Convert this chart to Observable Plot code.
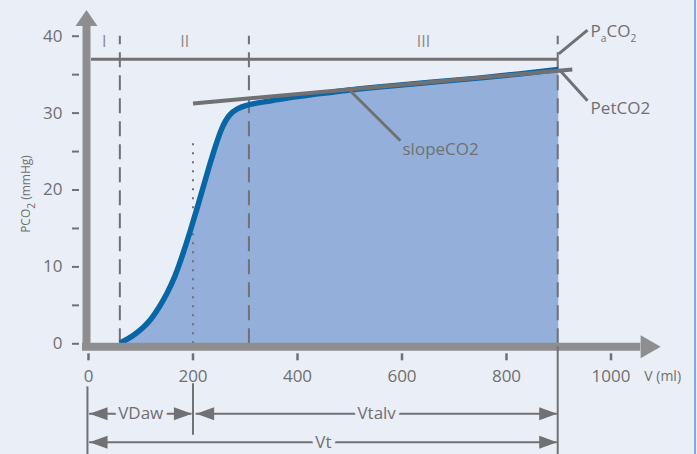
<!DOCTYPE html>
<html>
<head>
<meta charset="utf-8">
<script src="https://cdn.jsdelivr.net/npm/d3@7"></script>
<script src="https://cdn.jsdelivr.net/npm/@observablehq/plot@0.6"></script>
<style>
  html, body { margin: 0; padding: 0; background: #e9eef7; }
  #chart { position: relative; width: 697px; height: 454px; overflow: hidden; }
  #edge { position: absolute; left: 694px; top: 0; width: 2px; height: 454px; background: #82a8d9; }
</style>
</head>
<body>
<div id="chart"><div id="edge"></div></div>
<script>
// ---- data ----
const volume = [60, 75, 90, 105, 120, 135, 150, 165, 180, 195, 210, 225, 240, 255, 270, 285, 300, 320, 350, 380, 430, 495, 570, 655, 740, 827, 898, 900];
const pco2   = [0.1, 0.6, 1.3, 2.1, 3.2, 4.7, 6.5, 8.6, 11.5, 14.7, 18.1, 21.7, 25.1, 28.2, 29.9, 30.6, 31.0, 31.3, 31.6, 32.0, 32.4, 33.0, 33.5, 34.0, 34.5, 35.1, 35.65, 35.66];
const xTicks = [0, 200, 400, 600, 800, 1000];
const yTicks = [0, 5, 10, 15, 20, 25, 30, 35, 40];
const phaseBounds = [60, 307, 898];
const phaseNames = ["I", "II", "III"];
const phaseNameX = [30, 184, 641];
const paco2Value = 37;
const slopeX = [200, 926];
const slopeY = [31.25, 35.67];
const dotVolume = 200;
const dotTop = 26;
const dimLabels = ["VDaw", "Vtalv", "Vt"];
const dimStart = [2, 206, 2];
const dimEnd = [198, 897, 897];
const dimRow = [-9.1, -9.1, -12.8];
const annotLabels = ["P_aCO_2", "PetCO2", "slopeCO2"];
const annotFrom = [[900, 37.7], [903, 35.5], [495, 33.3]];
const annotTo = [[955, 40.8], [955, 31.6], [597, 26.4]];
const annotText = [[961, 40.6], [961, 30.6], [601, 25.3]];

const data = volume.map((v, i) => ({v, p: pco2[i]}));

// ---- style ----
const bg = "#e9eef7";
const axisGray = "#8e8e90";
const lineGray = "#717173";
const textGray = "#707070";

function arrowSymbol(L, H) {
  return { draw(ctx) { ctx.moveTo(0, 0); ctx.lineTo(-L, -H / 2); ctx.lineTo(-L, H / 2); ctx.closePath(); } };
}
const headBig = arrowSymbol(20, 23);
const headY = arrowSymbol(16, 22);
const headSmall = arrowSymbol(18, 13);

const dims = dimLabels.map((label, i) => ({label, x1: dimStart[i], x2: dimEnd[i], y: dimRow[i]}));
const heads = dims.flatMap(d => [{x: d.x1, y: d.y, r: 180}, {x: d.x2, y: d.y, r: 0}]);
const annots = annotLabels.map((t, i) => ({t, x1: annotFrom[i][0], y1: annotFrom[i][1], x2: annotTo[i][0], y2: annotTo[i][1], tx: annotText[i][0], ty: annotText[i][1]}));

const chart = Plot.plot({
  width: 697, height: 454,
  marginLeft: 88, marginRight: 86.5, marginTop: 35.7, marginBottom: 110.7,
  x: {domain: [0, 1000]},
  y: {domain: [0, 40]},
  style: {background: bg, color: textGray, fontFamily: "'Open Sans', sans-serif", overflow: "visible"},
  marks: [
    Plot.areaY(data, {x: "v", y: "p", fill: "#94b0da", curve: "basis"}),
    Plot.ruleX(phaseBounds, {y1: 0, y2: 40, stroke: lineGray, strokeWidth: 2, strokeDasharray: "15,8"}),
    Plot.ruleX([dotVolume], {y1: 0, y2: dotTop, stroke: lineGray, strokeWidth: 2, strokeDasharray: "2,7"}),
    Plot.ruleY([paco2Value], {x1: 5.7, x2: phaseBounds[2], stroke: lineGray, strokeWidth: 3}),
    Plot.line(data, {x: "v", y: "p", stroke: "#0865a6", strokeWidth: 5.5, curve: "basis", strokeLinecap: "butt"}),
    Plot.link([0], {x1: slopeX[0], x2: slopeX[1], y1: slopeY[0], y2: slopeY[1], stroke: lineGray, strokeWidth: 4}),
    // axis lines + arrow heads
    Plot.ruleX([0], {y1: -0.87, y2: 41.4, stroke: axisGray, strokeWidth: 8, dx: -2}),
    Plot.ruleY([0], {x1: -11.5, x2: 1057, stroke: axisGray, strokeWidth: 8, dy: 3}),
    Plot.dot([{x: 1095, y: 0}], {x: "x", y: "y", symbol: headBig, fill: axisGray, stroke: null, dy: 3}),
    Plot.dot([{x: 0, y: 43.4}], {x: "x", y: "y", symbol: headY, fill: axisGray, stroke: null, dx: -2, rotate: -90}),
    Plot.axisX(xTicks, {tickSize: 7, dy: 10, tickPadding: 9, fontSize: 17, strokeWidth: 2.5, label: null, tickFormat: d => String(d), stroke: lineGray, fill: textGray}),
    Plot.axisY(yTicks, {tickSize: 7, dx: -9, tickPadding: 10, fontSize: 17, strokeWidth: 2, label: null, tickFormat: d => d % 10 === 0 ? String(d) : "", stroke: lineGray, fill: textGray}),
    Plot.text(["V (ml)"], {x: 1063.7, y: -4.25, textAnchor: "start", fontSize: 14, fill: textGray}),
    Plot.text(["PCO_2 (mmHg)"], {frameAnchor: "left", textAnchor: "middle", rotate: -90, dx: -62, dy: 4, fontSize: 12, fill: textGray}),
    // phase labels
    Plot.text(phaseNames, {x: (d, i) => phaseNameX[i], y: 39.3, fontSize: 16, fill: "#8a8a8c"}),
    // annotations
    Plot.link(annots, {x1: "x1", y1: "y1", x2: "x2", y2: "y2", stroke: lineGray, strokeWidth: 3}),
    Plot.text(annots, {x: "tx", y: "ty", text: "t", textAnchor: "start", fontSize: 17, fill: textGray}),
    // dimension lines below
    Plot.ruleX([-2], {y1: -5.6, y2: -14.5, stroke: lineGray, strokeWidth: 2}),
    Plot.ruleX([dotVolume], {y1: -5.2, y2: -11.9, stroke: lineGray, strokeWidth: 2}),
    Plot.ruleX([phaseBounds[2]], {y1: -0.4, y2: -14.5, stroke: lineGray, strokeWidth: 2}),
    Plot.ruleY(dims, {y: "y", x1: "x1", x2: "x2", stroke: lineGray, strokeWidth: 2}),
    Plot.dot(heads, {x: "x", y: "y", rotate: "r", symbol: headSmall, fill: lineGray, stroke: null}),
    Plot.text(dims, {x: d => (d.x1 + d.x2) / 2, y: "y", text: "label", fontSize: 17, fill: textGray, stroke: bg, strokeWidth: 9})
  ]
});

// subscripts
d3.select(chart).selectAll("text").each(function() {
  const t = this.textContent;
  if (!t.includes("_")) return;
  const fs = parseFloat(this.getAttribute("font-size")) || parseFloat(getComputedStyle(this).fontSize) || 17;
  const el = d3.select(this);
  el.text(null);
  const parts = t.split(/_(\w)/);
  let shifted = false;
  const sh = fs * 0.3;
  parts.forEach((p, i) => {
    if (p === "") return;
    const sp = el.append("tspan").text(p);
    if (i % 2 === 1) {
      sp.attr("font-size", fs * 0.6).attr("dy", shifted ? 0 : sh);
      shifted = true;
    } else if (shifted) {
      sp.attr("dy", -sh);
      shifted = false;
    }
  });
});

document.getElementById("chart").appendChild(chart);
</script>
</body>
</html>
